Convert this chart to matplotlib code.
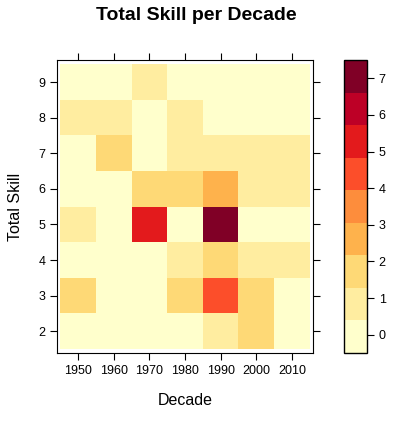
import numpy as np
import matplotlib
matplotlib.use("Agg")
import matplotlib.pyplot as plt
from matplotlib.colors import ListedColormap, BoundaryNorm

plt.rcParams['font.family'] = ['Liberation Sans', 'DejaVu Sans']

decades = [1950, 1960, 1970, 1980, 1990, 2000, 2010]
skills = [2, 3, 4, 5, 6, 7, 8, 9]
# counts[row for skill][col for decade]
counts = [
    [0, 0, 0, 0, 1, 2, 0],  # 2
    [2, 0, 0, 2, 4, 2, 0],  # 3
    [0, 0, 0, 1, 2, 1, 1],  # 4
    [1, 0, 5, 0, 7, 0, 0],  # 5
    [0, 0, 2, 2, 3, 1, 1],  # 6
    [0, 2, 0, 1, 1, 1, 1],  # 7
    [1, 1, 0, 1, 0, 0, 0],  # 8
    [0, 0, 1, 0, 0, 0, 0],  # 9
]
colors = ['#ffffcc', '#ffeda0', '#fed976', '#feb24c', '#fd8d3c',
          '#fc4e2a', '#e31a1c', '#bd0026', '#800026']

cmap = ListedColormap(colors)
bounds = np.linspace(-0.5, 7.5, len(colors) + 1)
norm = BoundaryNorm(bounds, cmap.N)

fig = plt.figure(figsize=(3.93, 4.22), dpi=100)
ax = fig.add_axes([57/393, 1 - 353/422, 256/393, 293/422])
cax = fig.add_axes([344/393, 1 - 353/422, 23/393, 293/422])

z = np.array(counts)
x_edges = np.arange(1945, 2016, 10)
y_edges = np.arange(1.5, 9.6, 1)
mesh = ax.pcolormesh(x_edges, y_edges, z, cmap=cmap, norm=norm)
ax.set_xlim(1944.1, 2015.9)
ax.set_ylim(1.39, 9.62)
ax.set_xticks(decades)
ax.set_yticks(skills)
ax.tick_params(direction='out', length=5, labelsize=9, top=True, right=True,
               labeltop=False, labelright=False)
ax.set_xlabel('Decade', fontsize=11.5, labelpad=12)
ax.set_ylabel('Total Skill', fontsize=11.5, labelpad=11)

cb = fig.colorbar(mesh, cax=cax, ticks=range(0, 8))
cb.minorticks_off()
cb.outline.set_linewidth(1)
cax.tick_params(which='both', direction='out', length=5, labelsize=9)
cax.yaxis.set_minor_locator(matplotlib.ticker.NullLocator())

fig.text(196/393, 1 - 16/422, 'Total Skill per Decade', fontsize=14,
         fontweight='bold', ha='center', va='center')

fig.savefig('out.png', dpi=100)
